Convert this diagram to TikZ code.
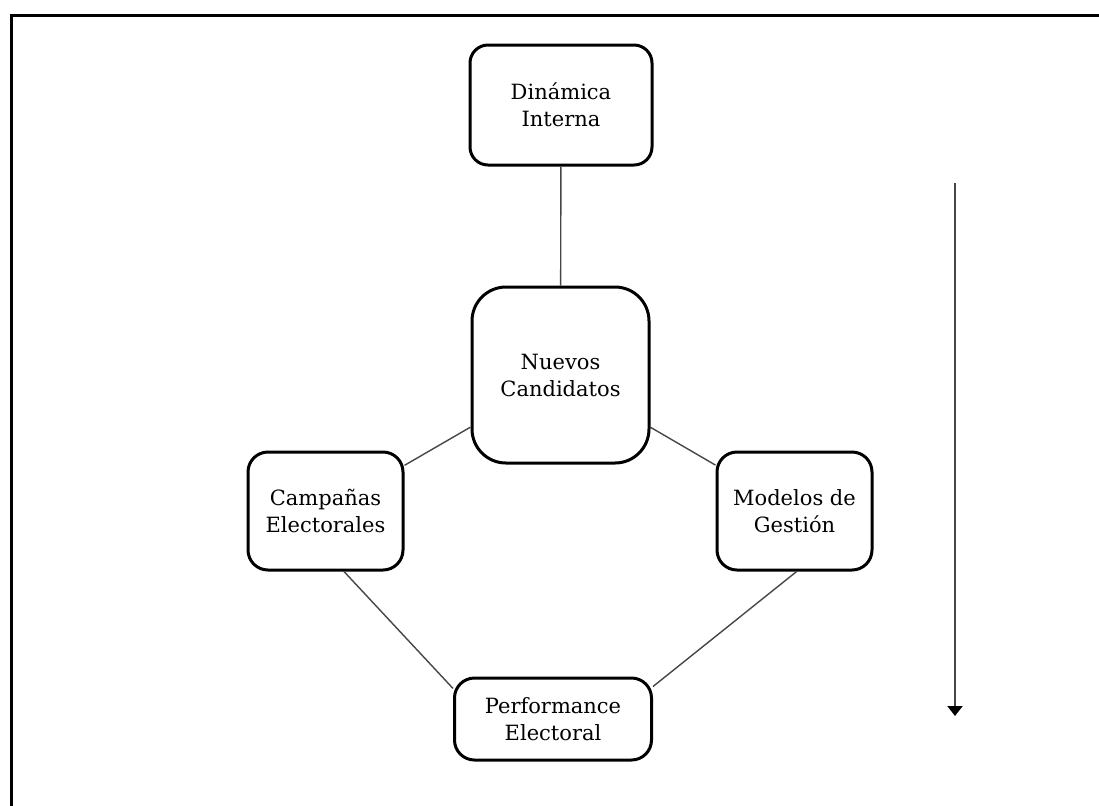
\documentclass[tikz,border=0pt]{standalone}
\usepackage{fontspec}
\setmainfont{DejaVu Serif}
\usepackage{xcolor}
\usetikzlibrary{arrows.meta}
\definecolor{edgegray}{RGB}{70,70,70}

\begin{document}
\begin{tikzpicture}[x=0.5pt,y=-0.5pt,font=\fontsize{10.5}{13.5}\selectfont,
  box/.style={draw=black,line width=1.5pt,rounded corners=9pt,fill=white,align=center,inner sep=2pt},
  link/.style={draw=edgegray,line width=0.7pt}]
  \useasboundingbox (0,0) rectangle (1099,805);
  % marco
  \draw[line width=1.5pt] (11,830) -- (11,15) -- (1120,15);
  \node[box,minimum width=91pt,minimum height=60pt] (din) at (561,105) {Dinámica\\Interna};
  \node[box,minimum width=88.5pt,minimum height=88pt,rounded corners=17pt] (nue) at (560.5,375) {Nuevos\\Candidatos};
  \node[box,minimum width=77.5pt,minimum height=59pt,rounded corners=10pt] (camp) at (325.5,511) {Campañas\\Electorales};
  \node[box,minimum width=77.5pt,minimum height=59pt,rounded corners=10pt] (mod) at (794.5,511) {Modelos de\\Gestión};
  \node[box,minimum width=98.5pt,minimum height=41pt,rounded corners=10pt] (perf) at (553,719) {Performance\\Electoral};
  \draw[link] (din) -- (nue);
  \draw[link] (nue) -- (camp);
  \draw[link] (nue) -- (mod);
  \draw[link] (camp.-73) -- (perf.163);
  \draw[link] (mod.-88) -- (perf.18);
  % flecha lateral
  \coordinate (flowtop) at (955,183);
  \coordinate (flowend) at (955,716);
  \draw[edgegray,line width=1pt,-{Triangle[width=7.5pt,length=5pt,black]}] (flowtop) -- (flowend);
\end{tikzpicture}
\end{document}
